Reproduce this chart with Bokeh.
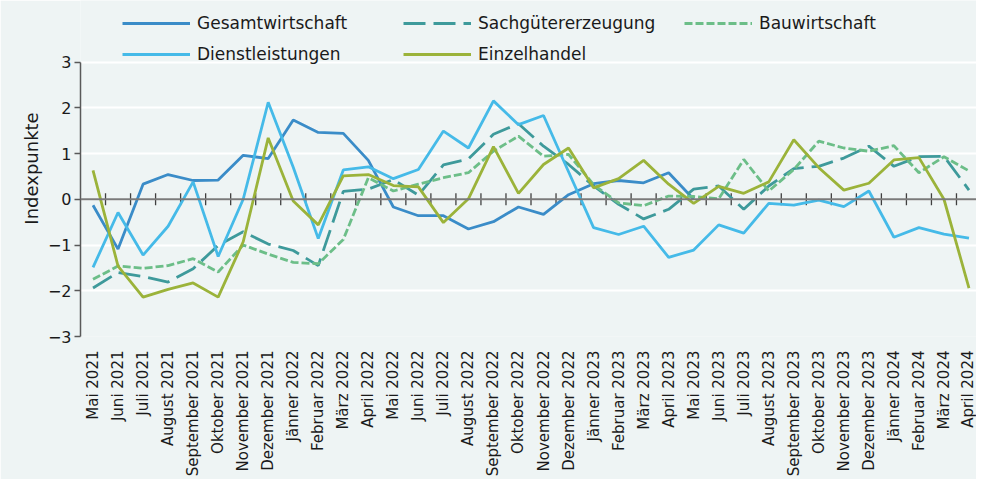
import math
from bokeh.plotting import figure
from bokeh.models import (ColumnDataSource, FixedTicker, Legend, LegendItem, Span)
from bokeh.embed import file_html
from bokeh.resources import INLINE

months = ["Mai 2021", "Juni 2021", "Juli 2021", "August 2021", "September 2021",
          "Oktober 2021", "November 2021", "Dezember 2021", "Jänner 2022",
          "Februar 2022", "März 2022", "April 2022", "Mai 2022", "Juni 2022",
          "Juli 2022", "August 2022", "September 2022", "Oktober 2022",
          "November 2022", "Dezember 2022", "Jänner 2023", "Februar 2023",
          "März 2023", "April 2023", "Mai 2023", "Juni 2023", "Juli 2023",
          "August 2023", "September 2023", "Oktober 2023", "November 2023",
          "Dezember 2023", "Jänner 2024", "Februar 2024", "März 2024", "April 2024"]

# Gesamtwirtschaft only shown up to Mai 2023
gesamt = [-0.13, -1.09, 0.33, 0.54, 0.41, 0.42, 0.96, 0.89, 1.73, 1.46, 1.44, 0.85,
          -0.17, -0.36, -0.36, -0.65, -0.49, -0.17, -0.33, 0.10, 0.34, 0.41, 0.36,
          0.58, 0.00]

sachgueter = [-1.94, -1.60, -1.69, -1.81, -1.52, -1.01, -0.71, -0.98, -1.12, -1.45,
              0.17, 0.22, 0.43, 0.09, 0.75, 0.88, 1.42, 1.65, 1.16, 0.76, 0.29,
              -0.11, -0.43, -0.22, 0.22, 0.29, -0.22, 0.29, 0.67, 0.72, 0.90, 1.16,
              0.72, 0.93, 0.94, 0.20]

bau = [-1.75, -1.46, -1.51, -1.45, -1.30, -1.59, -1.00, -1.20, -1.38, -1.41, -0.88,
       0.47, 0.18, 0.33, 0.47, 0.58, 1.05, 1.38, 0.94, 0.98, 0.32, -0.08, -0.14,
       0.07, 0.06, 0.01, 0.87, 0.18, 0.65, 1.27, 1.12, 1.05, 1.17, 0.58, 0.93, 0.62]

dienst = [-1.49, -0.29, -1.22, -0.59, 0.38, -1.25, 0.00, 2.12, 0.70, -0.86, 0.64,
          0.71, 0.45, 0.65, 1.49, 1.12, 2.15, 1.63, 1.83, 0.60, -0.62, -0.77, -0.59,
          -1.27, -1.11, -0.56, -0.74, -0.09, -0.13, -0.02, -0.16, 0.18, -0.83, -0.62,
          -0.76, -0.85]

einzel = [0.63, -1.46, -2.14, -1.97, -1.83, -2.14, -0.93, 1.34, -0.04, -0.56, 0.51,
          0.54, 0.30, 0.27, -0.51, 0.01, 1.15, 0.13, 0.76, 1.12, 0.25, 0.45, 0.85,
          0.33, -0.09, 0.28, 0.13, 0.38, 1.30, 0.69, 0.20, 0.35, 0.86, 0.91, 0.00,
          -1.94]

series_names = ["Gesamtwirtschaft", "Sachgütererzeugung", "Bauwirtschaft",
                "Dienstleistungen", "Einzelhandel"]
series_values = [gesamt, sachgueter, bau, dienst, einzel]
y_ticks = [-3, -2, -1, 0, 1, 2, 3]

FONT = "DejaVu Sans"
BG = "#EEF4F4"
TXT = "#1a1a1a"

FRAME_W, FRAME_H = 896, 336
TOP_PAD = 61.5  # pixels between frame top and the "3" gridline (legend area)
y_top = 3 + TOP_PAD / ((FRAME_H - TOP_PAD) / 6)

x = list(range(len(months)))

p = figure(frame_width=FRAME_W, frame_height=FRAME_H, output_backend="svg",
           toolbar_location=None,
           x_range=(-0.5, 35.3), y_range=(-3, y_top),
           background_fill_color=BG, border_fill_color=BG,
           min_border_left=80, min_border_right=0, min_border_top=0,
           min_border_bottom=0, outline_line_color=None)

# zero axis line with category separator ticks
p.add_layout(Span(location=0, dimension="width", line_color="#7a7a7a", line_width=2))
sep = [i + 0.5 for i in range(len(months) - 1)]
p.scatter(x=sep, y=[0] * len(sep), marker="dash", angle=math.pi / 2, size=12,
          line_color="#404040", line_width=1.3)

styles = [
    ("#3A8CC8", "solid"),
    ("#3E9A9B", "22 8"),
    ("#6CBE88", "8 3"),
    ("#45BAE8", "solid"),
    ("#9BB33A", "solid"),
]
renderers = []
for vals, (color, dash) in zip(series_values, styles):
    src = ColumnDataSource(dict(x=x[:len(vals)], y=vals))
    r = p.line("x", "y", source=src, line_color=color, line_width=2.8,
               line_dash=dash)
    renderers.append(r)

items = [LegendItem(label=n, renderers=[r]) for n, r in zip(series_names, renderers)]


def make_legend(its, top):
    return Legend(items=its, orientation="horizontal",
                  location=(42, FRAME_H - top - 16),
                  padding=0, margin=0, spacing=15,
                  glyph_width=68, glyph_height=16, label_height=16, label_width=191,
                  label_standoff=7, border_line_color=None, background_fill_alpha=0,
                  label_text_font=FONT, label_text_font_size="17px",
                  label_text_color=TXT)


p.add_layout(make_legend(items[:3], 17))
p.add_layout(make_legend(items[3:], 48))

# axes
p.xaxis.ticker = FixedTicker(ticks=x)
p.xaxis.major_label_overrides = {i: m for i, m in enumerate(months)}
p.xaxis.major_label_orientation = math.pi / 2
p.xaxis.axis_line_color = None
p.xaxis.major_tick_line_color = None
p.xaxis.minor_tick_line_color = None
p.xaxis.major_label_standoff = 8
p.xaxis.major_label_text_font = FONT
p.xaxis.major_label_text_font_size = "15px"
p.xaxis.major_label_text_color = TXT

p.yaxis.ticker = FixedTicker(ticks=y_ticks)
p.yaxis.bounds = (-3, 3)
p.yaxis.axis_label = "Indexpunkte"
p.yaxis.axis_label_text_font = FONT
p.yaxis.axis_label_text_font_size = "18px"
p.yaxis.axis_label_text_font_style = "normal"
p.yaxis.axis_label_text_color = TXT
p.yaxis.axis_label_standoff = 3
p.yaxis.major_label_text_font = FONT
p.yaxis.major_label_text_font_size = "16px"
p.yaxis.major_label_text_color = TXT
p.yaxis.major_label_standoff = 3
p.yaxis.axis_line_color = "#595959"
p.yaxis.axis_line_width = 1.5
p.yaxis.major_tick_line_color = "#595959"
p.yaxis.major_tick_line_width = 1.5
p.yaxis.major_tick_out = 6
p.yaxis.major_tick_in = 0
p.yaxis.minor_tick_line_color = None

p.xgrid.grid_line_color = None
p.ygrid.ticker = FixedTicker(ticks=y_ticks)
p.ygrid.grid_line_color = "white"
p.ygrid.grid_line_width = 2

open("out.html", "w").write(file_html(p, INLINE))
